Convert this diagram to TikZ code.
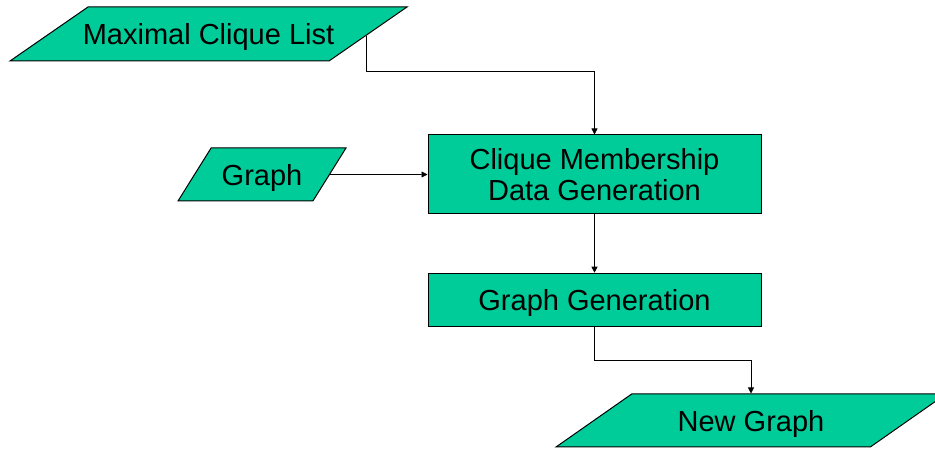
\documentclass[tikz,border=0pt]{standalone}
\usepackage{fontspec}
\setmainfont{Liberation Sans}
\usetikzlibrary{shapes.geometric}
\usetikzlibrary{arrows.meta}
\usetikzlibrary{calc}
\definecolor{gteal}{HTML}{00CC99}

\begin{document}
\begin{tikzpicture}[x=0.75pt, y=0.75pt, font=\fontsize{21.75pt}{23.8pt}\selectfont]
    \tikzset{io/.style={
      trapezium,
      trapezium stretches body=true,
      draw,
      fill=gteal,
      line width=0.75pt,
      text height=16pt,
      text depth=0pt,
      inner ysep=11.875pt,
      align=center},
      proc/.style={
      rectangle,
      draw,
      fill=gteal,
      line width=0.75pt,
      minimum width=249.75pt,
      text depth=0pt,
      align=center},
      flow/.style={-{Triangle[length=4.5pt, width=4.5pt]}, line width=0.6pt}}
    \useasboundingbox (0, 0) rectangle (935, 449);
    \clip (0, 0) rectangle (935, 449);
    % inputs and output
    \node[io, trapezium left angle=34.7, trapezium right angle=145.3, inner ysep=12.25pt, inner xsep=-4.5pt, minimum width=297.75pt] at (208.5, 415) (mcl) {Maximal Clique List};
    \node[io, trapezium left angle=58, trapezium right angle=122, minimum width=126pt] at (262, 274.5) (graph) {Graph};
    \node[io, trapezium left angle=35, trapezium right angle=145, minimum width=292.5pt] at (751, 28.5) (newgraph) {New Graph};
    % processing steps
    \node[proc, minimum height=59.25pt] at (594.5, 274.5) (cmdg) {Clique Membership \\ Data Generation};
    \node[proc, minimum height=39.75pt] at (594.5, 149.3) (ggen) {Graph Generation};
    \coordinate (mclout) at ($(mcl.top right corner)!0.53!(mcl.bottom right corner)$);
    \draw[flow] (mclout) -- ++(0, -36) -| (cmdg.north);
    \draw[flow] (graph.east) -- (cmdg.west);
    \draw[flow] (cmdg.south) -- (ggen.north);
    \draw[flow] (ggen.south) -- ++(0, -34) -| (newgraph.north);
\end{tikzpicture}
\end{document}
